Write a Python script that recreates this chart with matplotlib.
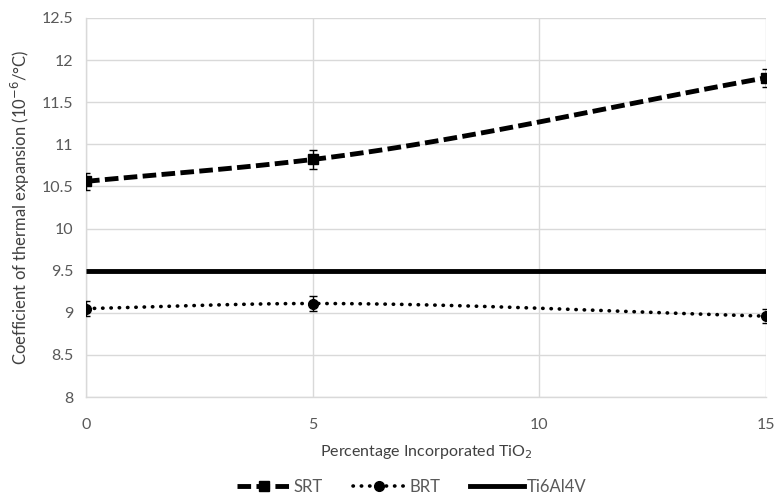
import numpy as np
import matplotlib
matplotlib.use("Agg")
import matplotlib.pyplot as plt
from matplotlib.lines import Line2D

plt.rcParams['font.family'] = ['Lato', 'DejaVu Sans']

x_pct = [0, 5, 15]
srt = [10.56, 10.82, 11.79]
srt_err = [0.10, 0.11, 0.11]
brt = [9.05, 9.11, 8.96]
brt_err = [0.09, 0.09, 0.08]
ti_x = [0, 15]
ti = [9.5, 9.5]
xticks = [0, 5, 10, 15]
yticks = [8, 8.5, 9, 9.5, 10, 10.5, 11, 11.5, 12, 12.5]

fig = plt.figure(figsize=(7.77, 4.98), dpi=100)
ax = fig.add_axes([0.1107, 0.2028, 0.8751, 0.7611])
ax.set_xlim(0, 15)
ax.set_ylim(8, 12.5)


def smooth(xs, ys, n=60):
    # PCHIP-style cubic Hermite curve through the data points (Excel-like smoothed line)
    x = np.array(xs, float)
    y = np.array(ys, float)
    m = len(x)
    h = np.diff(x)
    sec = np.diff(y) / h
    tan = np.empty(m)
    tan[0] = sec[0]
    tan[-1] = sec[-1]
    for i in range(1, m - 1):
        if sec[i - 1] * sec[i] <= 0:
            tan[i] = 0.0
        else:
            w1 = 2 * h[i] + h[i - 1]
            w2 = h[i] + 2 * h[i - 1]
            tan[i] = (w1 + w2) / (w1 / sec[i - 1] + w2 / sec[i])
    outx, outy = [], []
    for i in range(m - 1):
        t = np.linspace(0, 1, n)
        h00 = 2 * t ** 3 - 3 * t ** 2 + 1
        h10 = t ** 3 - 2 * t ** 2 + t
        h01 = -2 * t ** 3 + 3 * t ** 2
        h11 = t ** 3 - t ** 2
        yy = h00 * y[i] + h10 * h[i] * tan[i] + h01 * y[i + 1] + h11 * h[i] * tan[i + 1]
        xx = x[i] + t * h[i]
        if i > 0:
            xx, yy = xx[1:], yy[1:]
        outx.append(xx)
        outy.append(yy)
    return np.concatenate(outx), np.concatenate(outy)


grid_c = '#d9d9d9'
for t in yticks:
    ax.axhline(t, color=grid_c, lw=1, zorder=0)
for t in xticks:
    ax.axvline(t, color=grid_c, lw=1, zorder=0)

dash_srt = (0, (2.8, 1.1))
dot_brt = (0, (0.1, 2.2))

# Ti6Al4V
ax.plot(ti_x, ti, color='black', lw=3.5, solid_capstyle='butt', zorder=3)

# SRT
sxs, sys_ = smooth(x_pct, srt)
ax.plot(sxs, sys_, color='black', lw=3.5, ls=dash_srt, zorder=3)
ax.errorbar(x_pct, srt, yerr=srt_err, fmt='none', ecolor='black', elinewidth=1, capsize=3, capthick=1, zorder=4)
ax.plot(x_pct, srt, ls='none', marker='s', ms=7, color='black', zorder=5)

# BRT
bxs, bys = smooth(x_pct, brt)
ax.plot(bxs, bys, color='black', lw=2.6, ls=dot_brt, dash_capstyle='round', zorder=3)
ax.errorbar(x_pct, brt, yerr=brt_err, fmt='none', ecolor='black', elinewidth=1, capsize=3, capthick=1, zorder=4)
ax.plot(x_pct, brt, ls='none', marker='o', ms=7, color='black', zorder=5)

for s in ['top', 'right']:
    ax.spines[s].set_visible(False)
for s in ['left', 'bottom']:
    ax.spines[s].set_color(grid_c)
    ax.spines[s].set_linewidth(1)

ax.set_xticks(xticks)
ax.set_xticklabels([str(v) for v in xticks])
ax.set_yticks(yticks)
ax.set_yticklabels(['8', '8.5', '9', '9.5', '10', '10.5', '11', '11.5', '12', '12.5'])
ax.tick_params(length=0, labelsize=11.5, colors='#595959')
ax.tick_params(axis='y', pad=9)
ax.tick_params(axis='x', pad=15)

ax.set_xlabel('Percentage Incorporated TiO$_2$', fontsize=11.5, color='#404040', labelpad=8)
ax.set_ylabel('Coefficient of thermal expansion (10$^{\\mathrm{-6}}$/°C)', fontsize=12, color='#404040', labelpad=7)

h1 = Line2D([], [], color='black', lw=3.5, ls=dash_srt, marker='s', ms=7)
h2 = Line2D([], [], color='black', lw=2.6, ls=dot_brt, dash_capstyle='round', marker='o', ms=7)
h3 = Line2D([], [], color='black', lw=3.5)
leg = fig.legend([h1, h2, h3], ['SRT', 'BRT', 'Ti6Al4V'], loc='center', bbox_to_anchor=(0.53, 0.022),
                 ncol=3, frameon=False, fontsize=12, handlelength=3.2, numpoints=1,
                 columnspacing=1.8, handletextpad=0.2)
for t in leg.get_texts():
    t.set_color('#595959')

fig.savefig('out.png', dpi=100)
